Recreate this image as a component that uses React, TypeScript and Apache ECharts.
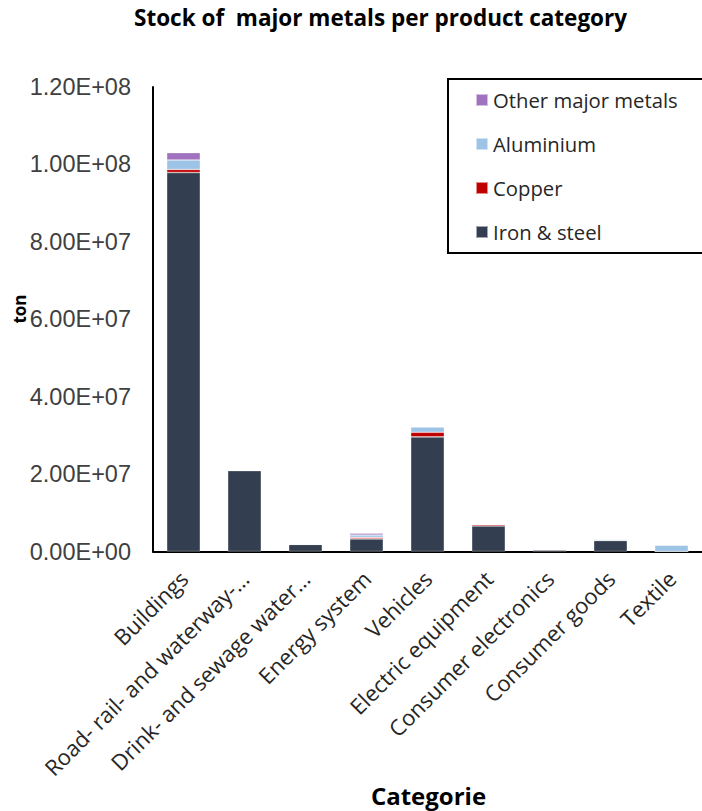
import React, { useEffect, useRef } from "react";
import * as echarts from "echarts";

// Product categories shown on the x axis
const CATEGORIES = [
  "Buildings",
  "Road- rail- and waterway-…",
  "Drink- and sewage water…",
  "Energy system",
  "Vehicles",
  "Electric equipment",
  "Consumer electronics",
  "Consumer goods",
  "Textile",
];

// Stock per metal (ton), one value per category
const IRON_STEEL = [9.79e7, 2.09e7, 1.84e6, 3.25e6, 2.96e7, 6.6e6, 4.0e5, 2.84e6, 0];
const COPPER = [8.0e5, 1.5e5, 1.0e4, 4.0e5, 1.2e6, 3.5e5, 5.0e4, 3.0e4, 0];
const ALUMINIUM = [2.45e6, 1.0e5, 1.0e4, 6.0e5, 1.37e6, 1.5e5, 5.0e4, 2.5e5, 1.65e6];
const OTHER_METALS = [1.9e6, 1.5e5, 0, 4.5e5, 1.0e5, 1.5e5, 1.7e5, 1.4e5, 5.0e4];

// Value-axis ticks
const Y_TICKS = [0, 2e7, 4e7, 6e7, 8e7, 1e8, 1.2e8];

const SERIES_NAMES = ["Iron & steel", "Copper", "Aluminium", "Other major metals"];
const COLORS = ["#333F50", "#C00000", "#9DC3E6", "#A072C0"];

// Excel-style scientific notation: 1.20E+08
function sci(v: number): string {
  const [m, e] = v.toExponential(2).split("e");
  const sign = e[0] === "-" ? "-" : "+";
  const digits = e.replace(/[+-]/, "").padStart(2, "0");
  return `${m}E${sign}${digits}`;
}

export default function App() {
  const ref = useRef<HTMLDivElement>(null);

  useEffect(() => {
    if (!ref.current) return;
    const chart = echarts.init(ref.current, undefined, { renderer: "svg" });

    const seriesData = [IRON_STEEL, COPPER, ALUMINIUM, OTHER_METALS];

    chart.setOption({
      animation: false,
      backgroundColor: "#ffffff",
      grid: { left: 153, top: 87, width: 552, height: 464.5, containLabel: false },
      legend: {
        orient: "vertical",
        left: 475,
        top: 88,
        padding: 0,
        itemWidth: 12,
        itemHeight: 12,
        itemGap: 20,
        icon: "rect",
        data: ["Other major metals", "Aluminium", "Copper", "Iron & steel"],
        textStyle: {
          fontFamily: "Open Sans",
          fontSize: 20.3,
          lineHeight: 24,
          color: "#262626",
          padding: [0, 0, 0, 0],
        },
      },
      xAxis: {
        type: "category",
        data: CATEGORIES,
        axisLine: { show: true, lineStyle: { color: "#000000", width: 2 } },
        axisTick: { show: false },
        axisLabel: {
          interval: 0,
          rotate: 45,
          margin: 23,
          fontFamily: "Open Sans",
          fontSize: 22,
          color: "#262626",
        },
      },
      yAxis: {
        type: "value",
        min: Y_TICKS[0],
        max: Y_TICKS[Y_TICKS.length - 1],
        interval: Y_TICKS[1] - Y_TICKS[0],
        axisLine: { show: true, lineStyle: { color: "#000000", width: 2 } },
        axisTick: { show: false },
        splitLine: { show: false },
        axisLabel: {
          margin: 22,
          fontFamily: "Liberation Sans",
          fontSize: 23.5,
          color: "#404040",
          formatter: (v: number) => sci(v),
        },
      },
      series: SERIES_NAMES.map((name, i) => ({
        name,
        type: "bar",
        stack: "metals",
        barCategoryGap: "45%",
        data: seriesData[i],
        itemStyle: {
          color: COLORS[i],
          borderColor: "rgba(255,255,255,0.55)",
          borderWidth: 0.6,
        },
      })),
      graphic: [
        {
          type: "text",
          left: 134,
          top: 6,
          style: {
            text: "Stock of  major metals per product category",
            fontFamily: "Open Sans",
            fontWeight: "bold",
            fontSize: 22.5,
            fill: "#000000",
          },
        },
        {
          type: "text",
          x: 19,
          y: 309,
          rotation: Math.PI / 2,
          style: {
            text: "ton",
            fontFamily: "Open Sans",
            fontWeight: "bold",
            fontSize: 17,
            fill: "#000000",
            align: "center",
            verticalAlign: "middle",
          },
        },
        {
          type: "text",
          x: 428.5,
          y: 795,
          style: {
            text: "Categorie",
            fontFamily: "Open Sans",
            fontWeight: "bold",
            fontSize: 24,
            fill: "#000000",
            align: "center",
            verticalAlign: "middle",
          },
        },
        {
          type: "rect",
          shape: { x: 448, y: 79, width: 400, height: 174 },
          style: { fill: "none", stroke: "#000000", lineWidth: 2 },
          z: -1,
        },
      ],
    });

    return () => chart.dispose();
  }, []);

  return (
    <div
      ref={ref}
      style={{ position: "fixed", left: 0, top: 0, width: 702, height: 811 }}
    />
  );
}
